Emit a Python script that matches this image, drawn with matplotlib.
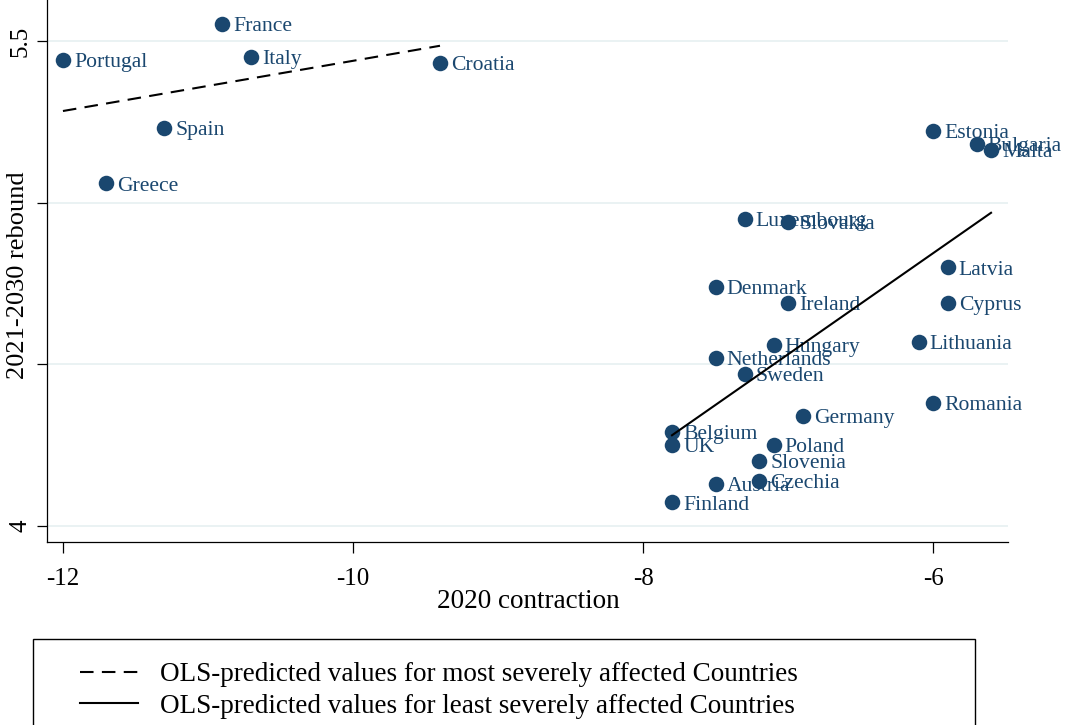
import matplotlib.pyplot as plt
import numpy as np
from matplotlib.patches import Rectangle

plt.rcParams['font.family'] = ['Liberation Serif', 'DejaVu Serif']

navy = '#1a476f'
grid_col = '#eaf2f3'

# most severely affected countries
severe_names = ['France', 'Portugal', 'Italy', 'Croatia', 'Spain', 'Greece']
severe_x = [-10.9, -12.0, -10.7, -9.4, -11.3, -11.7]
severe_y = [5.553, 5.441, 5.450, 5.432, 5.231, 5.060]

# least severely affected countries
mild_names = ['Estonia', 'Bulgaria', 'Malta', 'Luxembourg', 'Slovakia',
              'Latvia', 'Denmark', 'Ireland', 'Cyprus', 'Hungary',
              'Lithuania', 'Netherlands', 'Sweden', 'Romania', 'Germany',
              'Belgium', 'UK', 'Poland', 'Slovenia', 'Czechia', 'Austria',
              'Finland']
mild_x = [-6.0, -5.7, -5.6, -7.3, -7.0,
          -5.9, -7.5, -7.0, -5.9, -7.1,
          -6.1, -7.5, -7.3, -6.0, -6.9,
          -7.8, -7.8, -7.1, -7.2, -7.2, -7.5,
          -7.8]
mild_y = [5.221, 5.181, 5.163, 4.950, 4.941,
          4.800, 4.740, 4.690, 4.690, 4.560,
          4.570, 4.520, 4.470, 4.380, 4.340,
          4.290, 4.250, 4.250, 4.200, 4.140, 4.130,
          4.073]

legend_labels = ['OLS-predicted values for most severely affected Countries',
                 'OLS-predicted values for least severely affected Countries']

fig = plt.figure(figsize=(10.72, 7.25), dpi=100)
ax = fig.add_axes([47 / 1072, 1 - 542 / 725, 961 / 1072, 542 / 725])

ax.set_xlim(-12.11, -5.483)
ax.set_ylim(3.950, 5.627)

for y in [4, 4.5, 5, 5.5]:
    ax.axhline(y, color=grid_col, lw=1.4, zorder=0)

all_names = severe_names + mild_names
all_x = severe_x + mild_x
all_y = severe_y + mild_y
ax.scatter(all_x, all_y, s=125, color=navy, zorder=2, linewidths=0)
for name, x, y in zip(all_names, all_x, all_y):
    ax.annotate(name, (x, y), xytext=(8, -2), textcoords='offset points',
                va='center', ha='left', fontsize=15.6, color=navy, zorder=2)

# separate OLS fits for the two groups
handles = []
for xs, ys, style in [(severe_x, severe_y, (0, (6.5, 4))),
                      (mild_x, mild_y, '-')]:
    b, a = np.polyfit(xs, ys, 1)
    xr = np.array([min(xs), max(xs)])
    ln, = ax.plot(xr, a + b * xr, color='black', lw=1.5, ls=style, zorder=3)
    handles.append(ln)

for side in ['top', 'right']:
    ax.spines[side].set_visible(False)
for side in ['left', 'bottom']:
    ax.spines[side].set_linewidth(0.9)

ax.set_xticks([-12, -10, -8, -6])
ax.set_xticklabels(['-12', '-10', '-8', '-6'])
ax.set_yticks([4, 4.5, 5, 5.5])
ax.set_yticklabels(['4', '', '', '5.5'], rotation=90, va='center')
ax.tick_params(axis='x', direction='out', length=8, width=0.9,
               labelsize=18, pad=11)
ax.tick_params(axis='y', direction='out', length=7, width=0.9,
               labelsize=18, pad=4)

fig.text(528 / 1072, 1 - 602 / 725, '2020 contraction', fontsize=19.5,
         ha='center', va='center')
fig.text(18 / 1072, 1 - 275 / 725, '2021-2030 rebound', fontsize=19,
         rotation=90, ha='center', va='center')

# legend box runs off the bottom edge
fig.add_artist(Rectangle((33 / 1072, -0.05), (975 - 33) / 1072,
                         1 - 639 / 725 + 0.05, transform=fig.transFigure,
                         fill=False, edgecolor='black', lw=1.0))
fig.legend(handles, legend_labels, loc='upper left',
           bbox_to_anchor=(80 / 1072, 1 - 662 / 725), frameon=False,
           fontsize=19.5, handlelength=2.14, handletextpad=0.8,
           borderpad=0, borderaxespad=0, labelspacing=0.25)

fig.savefig('out.png', dpi=100)
